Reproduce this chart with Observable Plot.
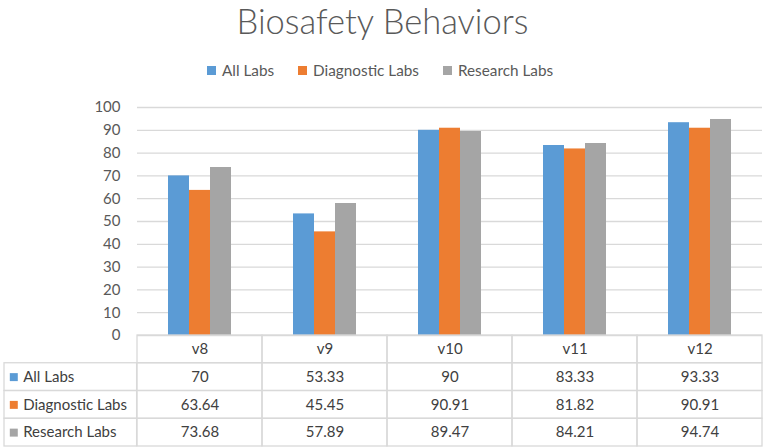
<!DOCTYPE html>
<html>
<head>
<meta charset="utf-8">
<script src="https://cdn.jsdelivr.net/npm/d3@7"></script>
<script src="https://cdn.jsdelivr.net/npm/@observablehq/plot@0.6"></script>
<style>
  html, body { margin: 0; padding: 0; background: #fff; }
  #root { position: relative; width: 765px; height: 447px; overflow: hidden; font-family: Lato, "Open Sans", sans-serif; }
  #title { position: absolute; left: 0; top: 7px; width: 765px; text-align: center; font-size: 34.5px; font-weight: 300; color: #595959; line-height: 28px; }
  #legend { position: absolute; left: 207px; top: 60px; display: flex; font-size: 15.3px; color: #595959; line-height: 20px; }
  #legend .item { display: flex; align-items: center; margin-right: 24px; }
  #legend .sw { width: 9px; height: 9px; margin-right: 6px; }
  #chart { position: absolute; left: 0; top: 90px; }
  #table { position: absolute; left: 0; top: 334px; }
</style>
</head>
<body>
<div id="root">
  <div id="title"></div>
  <div id="legend"></div>
  <div id="chart"></div>
  <div id="table"></div>
</div>
<script>
const title = "Biosafety Behaviors";
const categories = ["v8", "v9", "v10", "v11", "v12"];
const series = ["All Labs", "Diagnostic Labs", "Research Labs"];
const allLabs = [70, 53.33, 90, 83.33, 93.33];
const diagnosticLabs = [63.64, 45.45, 90.91, 81.82, 90.91];
const researchLabs = [73.68, 57.89, 89.47, 84.21, 94.74];
const yTicks = [0, 10, 20, 30, 40, 50, 60, 70, 80, 90, 100];
const colors = ["#5B9BD5", "#ED7D31", "#A5A5A5"];

const seriesValues = [allLabs, diagnosticLabs, researchLabs];
const data = [];
categories.forEach((c, i) => series.forEach((s, j) => data.push({category: c, series: s, value: seriesValues[j][i], row: j + 1})));

document.getElementById("title").textContent = title;
const legend = document.getElementById("legend");
series.forEach((s, j) => {
  const it = document.createElement("div"); it.className = "item";
  const sw = document.createElement("div"); sw.className = "sw"; sw.style.background = colors[j];
  const tx = document.createElement("span"); tx.textContent = s;
  it.appendChild(sw); it.appendChild(tx); legend.appendChild(it);
});

const W = 765, ML = 136, MR = 2;
const bw = (W - ML - MR) / categories.length;

const chart = Plot.plot({
  width: W, height: 256,
  marginLeft: ML, marginRight: MR, marginTop: 17, marginBottom: 11,
  style: {background: "transparent", overflow: "visible", fontFamily: "Lato, sans-serif"},
  fx: {domain: categories, padding: 0, axis: null},
  x: {domain: series, paddingInner: 0, paddingOuter: 1.39, axis: null},
  y: {domain: [0, 100]},
  color: {domain: series, range: colors},
  marks: [
    Plot.gridY(yTicks, {stroke: "#d9d9d9", strokeOpacity: 1, strokeWidth: 1.3}),
    Plot.axisY(yTicks, {tickSize: 0, tickPadding: 17, fontSize: 15, color: "#595959", label: null}),
    Plot.barY(data, {fx: "category", x: "series", y: "value", fill: "series"})
  ]
});
document.getElementById("chart").appendChild(chart);

const rowsIdx = [1, 2, 3];
const cells = [];
categories.forEach(c => [0, 1, 2, 3].forEach(r => cells.push({category: c, r})));

const table = Plot.plot({
  width: W, height: 113,
  marginLeft: ML, marginRight: MR, marginTop: 1, marginBottom: 1,
  style: {background: "transparent", overflow: "visible", fontFamily: "Lato, sans-serif"},
  x: {domain: categories, padding: 0, axis: null},
  y: {domain: [0, 4], reverse: true, axis: null},
  marks: [
    Plot.barY(cells, {x: "category", y1: "r", y2: d => d.r + 1, fill: "none", stroke: "#d9d9d9", strokeWidth: 1.3}),
    Plot.barY(rowsIdx, {x: () => categories[0], y1: d => d, y2: d => d + 1, fill: "none", stroke: "#d9d9d9", strokeWidth: 1.3, insetLeft: -(ML - 3), insetRight: bw}),
    Plot.text(categories, {x: d => d, y: () => 0.5, text: d => d, fontSize: 15, fill: "#404040"}),
    Plot.text(data, {x: "category", y: d => d.row + 0.5, text: d => String(d.value), fontSize: 15, fill: "#404040"}),
    Plot.dot(rowsIdx, {y: d => d + 0.5, frameAnchor: "left", dx: -122.7, symbol: "square", r: 4.5, fill: (d) => colors[d - 1], stroke: null}),
    Plot.text(rowsIdx, {y: d => d + 0.5, frameAnchor: "left", dx: -113.3, textAnchor: "start", text: d => series[d - 1], fontSize: 15, fill: "#404040"})
  ]
});
document.getElementById("table").appendChild(table);
</script>
</body>
</html>
